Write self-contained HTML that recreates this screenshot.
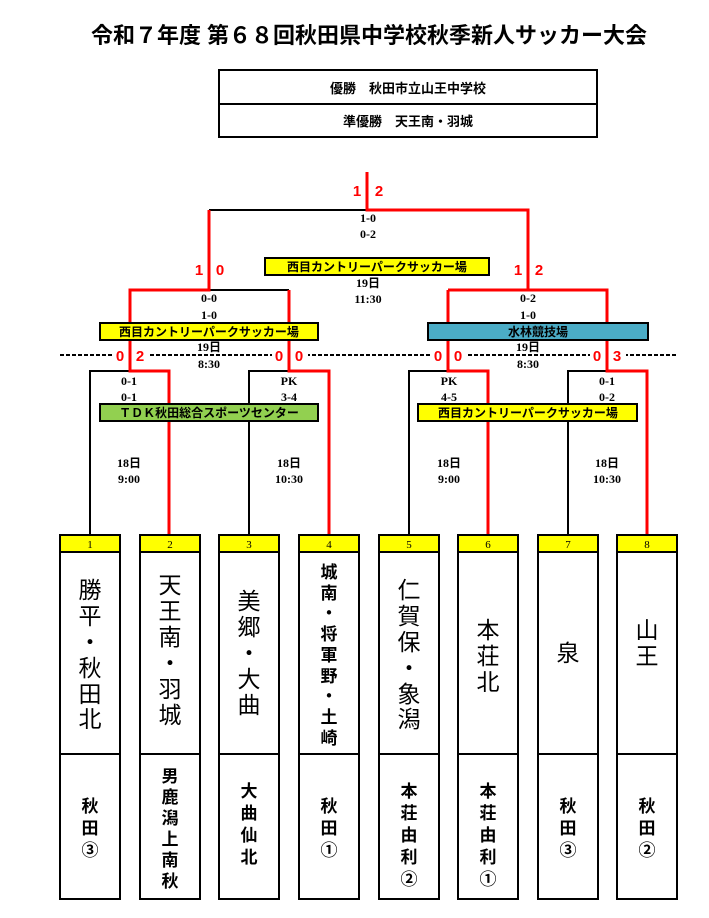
<!DOCTYPE html>
<html><head><meta charset="utf-8"><style>
body{margin:0;background:#fff}
svg text{font-family:"Liberation Sans","Noto Sans CJK JP",sans-serif;font-weight:bold}
svg text.n{font-weight:normal}
svg text.s{font-family:"Liberation Serif","Noto Sans CJK JP",serif}
</style></head><body>
<svg width="709" height="913" xmlns="http://www.w3.org/2000/svg">
<text x="369" y="43" font-size="22" text-anchor="middle">令和７年度 第６８回秋田県中学校秋季新人サッカー大会</text>
<rect x="219" y="70" width="378" height="67" fill="none" stroke="#000" stroke-width="2"/>
<line x1="219" y1="104" x2="597" y2="104" stroke="#000" stroke-width="2"/>
<text x="408" y="93" font-size="13" text-anchor="middle">優勝　秋田市立山王中学校</text>
<text x="408" y="126" font-size="13" text-anchor="middle">準優勝　天王南・羽城</text>

<g stroke="#000" stroke-width="2" fill="none">
<line x1="60" y1="355" x2="677" y2="355" stroke-dasharray="4,2"/>
<path d="M209 210H367"/>
<path d="M209 290H289"/>
<path d="M90 535V371H129"/>
<path d="M249 535V371H289"/>
<path d="M409 535V371H449"/>
<path d="M568 535V371H607"/>
</g>
<g fill="#fff">
<rect x="112" y="347" width="36" height="14"/><rect x="272" y="347" width="36" height="14"/>
<rect x="431" y="347" width="36" height="14"/><rect x="590" y="347" width="36" height="14"/>
</g>
<g stroke="#f00" stroke-width="3" fill="none">
<path d="M367 172V210H528V290"/>
<path d="M209 210V290H130V371H169V535"/>
<path d="M289 290V371H329V535"/>
<path d="M448 290H607V371H647V535"/>
<path d="M448 290V371H488V535"/>
</g>
<g font-size="15" text-anchor="middle">
<text x="357" y="196" style="fill:#f00">1</text><text x="379" y="196" style="fill:#f00">2</text>
<text x="199" y="275" style="fill:#f00">1</text><text x="220" y="275" style="fill:#f00">0</text>
<text x="518" y="275" style="fill:#f00">1</text><text x="539" y="275" style="fill:#f00">2</text>
<text x="120" y="361" style="fill:#f00">0</text><text x="140" y="361" style="fill:#f00">2</text>
<text x="279" y="361" style="fill:#f00">0</text><text x="299" y="361" style="fill:#f00">0</text>
<text x="438" y="361" style="fill:#f00">0</text><text x="458" y="361" style="fill:#f00">0</text>
<text x="597" y="361" style="fill:#f00">0</text><text x="617" y="361" style="fill:#f00">3</text>
</g>
<g stroke="#000" stroke-width="2">
<rect x="265" y="258" width="224" height="17" fill="#ff0"/>
<rect x="100" y="323" width="218" height="17" fill="#ff0"/>
<rect x="428" y="323" width="220" height="17" fill="#4bacc6"/>
<rect x="100" y="404" width="218" height="17" fill="#92d050"/>
<rect x="418" y="404" width="219" height="17" fill="#ff0"/>
</g>
<g font-size="12" text-anchor="middle">
<text x="377" y="271">西目カントリーパークサッカー場</text>
<text x="209" y="336">西目カントリーパークサッカー場</text>
<text x="538" y="336">水林競技場</text>
<text x="209" y="417">ＴＤＫ秋田総合スポーツセンター</text>
<text x="528" y="417">西目カントリーパークサッカー場</text>
</g>
<g font-size="12" text-anchor="middle">
<text class="s" x="368" y="222">1-0</text><text class="s" x="368" y="238">0-2</text>
<text class="s" x="368" y="287">19日</text><text class="s" x="368" y="303">11:30</text>
<text class="s" x="209" y="302">0-0</text><text class="s" x="209" y="319">1-0</text>
<text class="s" x="209" y="351">19日</text><text class="s" x="209" y="368">8:30</text>
<text class="s" x="528" y="302">0-2</text><text class="s" x="528" y="319">1-0</text>
<text class="s" x="528" y="351">19日</text><text class="s" x="528" y="368">8:30</text>
<text class="s" x="129" y="385">0-1</text><text class="s" x="129" y="401">0-1</text>
<text class="s" x="289" y="385">PK</text><text class="s" x="289" y="401">3-4</text>
<text class="s" x="449" y="385">PK</text><text class="s" x="449" y="401">4-5</text>
<text class="s" x="607" y="385">0-1</text><text class="s" x="607" y="401">0-2</text>
<text class="s" x="129" y="467">18日</text><text class="s" x="129" y="483">9:00</text>
<text class="s" x="289" y="467">18日</text><text class="s" x="289" y="483">10:30</text>
<text class="s" x="449" y="467">18日</text><text class="s" x="449" y="483">9:00</text>
<text class="s" x="607" y="467">18日</text><text class="s" x="607" y="483">10:30</text>
</g>
<g stroke="#000" stroke-width="2">
<rect x="60" y="535" width="60" height="364" fill="#fff"/><rect x="60" y="535" width="60" height="17" fill="#ff0"/><line x1="60" y1="754" x2="120" y2="754"/>
<rect x="140" y="535" width="60" height="364" fill="#fff"/><rect x="140" y="535" width="60" height="17" fill="#ff0"/><line x1="140" y1="754" x2="200" y2="754"/>
<rect x="219" y="535" width="60" height="364" fill="#fff"/><rect x="219" y="535" width="60" height="17" fill="#ff0"/><line x1="219" y1="754" x2="279" y2="754"/>
<rect x="299" y="535" width="60" height="364" fill="#fff"/><rect x="299" y="535" width="60" height="17" fill="#ff0"/><line x1="299" y1="754" x2="359" y2="754"/>
<rect x="379" y="535" width="60" height="364" fill="#fff"/><rect x="379" y="535" width="60" height="17" fill="#ff0"/><line x1="379" y1="754" x2="439" y2="754"/>
<rect x="458" y="535" width="60" height="364" fill="#fff"/><rect x="458" y="535" width="60" height="17" fill="#ff0"/><line x1="458" y1="754" x2="518" y2="754"/>
<rect x="538" y="535" width="60" height="364" fill="#fff"/><rect x="538" y="535" width="60" height="17" fill="#ff0"/><line x1="538" y1="754" x2="598" y2="754"/>
<rect x="617" y="535" width="60" height="364" fill="#fff"/><rect x="617" y="535" width="60" height="17" fill="#ff0"/><line x1="617" y1="754" x2="677" y2="754"/>
</g>
<g font-size="11" text-anchor="middle">
<text class="n s" x="90" y="548">1</text><text class="n s" x="170" y="548">2</text>
<text class="n s" x="249" y="548">3</text><text class="n s" x="329" y="548">4</text>
<text class="n s" x="409" y="548">5</text><text class="n s" x="488" y="548">6</text>
<text class="n s" x="568" y="548">7</text><text class="n s" x="647" y="548">8</text>
</g>
<g text-anchor="middle" font-size="23">
<text class="n"><tspan x="90" y="598">勝</tspan><tspan x="90" y="624">平</tspan><tspan x="90" y="650">・</tspan><tspan x="90" y="676">秋</tspan><tspan x="90" y="702">田</tspan><tspan x="90" y="727">北</tspan></text>
<text class="n"><tspan x="170" y="593">天</tspan><tspan x="170" y="619">王</tspan><tspan x="170" y="645">南</tspan><tspan x="170" y="671">・</tspan><tspan x="170" y="697">羽</tspan><tspan x="170" y="723">城</tspan></text>
<text class="n"><tspan x="249" y="609">美</tspan><tspan x="249" y="635">郷</tspan><tspan x="249" y="661">・</tspan><tspan x="249" y="687">大</tspan><tspan x="249" y="713">曲</tspan></text>
<text class="n"><tspan x="409" y="598">仁</tspan><tspan x="409" y="624">賀</tspan><tspan x="409" y="650">保</tspan><tspan x="409" y="676">・</tspan><tspan x="409" y="702">象</tspan><tspan x="409" y="727">潟</tspan></text>
<text class="n"><tspan x="488" y="638">本</tspan><tspan x="488" y="664">荘</tspan><tspan x="488" y="690">北</tspan></text>
<text class="n"><tspan x="568" y="661">泉</tspan></text>
<text class="n"><tspan x="647" y="638">山</tspan><tspan x="647" y="664">王</tspan></text>
</g>
<g text-anchor="middle" font-size="17">
<text><tspan x="329" y="578">城</tspan><tspan x="329" y="599">南</tspan><tspan x="329" y="619">・</tspan><tspan x="329" y="640">将</tspan><tspan x="329" y="661">軍</tspan><tspan x="329" y="682">野</tspan><tspan x="329" y="702">・</tspan><tspan x="329" y="723">土</tspan><tspan x="329" y="744">崎</tspan></text>
<text><tspan x="90" y="812">秋</tspan><tspan x="90" y="834">田</tspan><tspan x="90" y="856">③</tspan></text>
<text><tspan x="170" y="782">男</tspan><tspan x="170" y="803">鹿</tspan><tspan x="170" y="824">潟</tspan><tspan x="170" y="845">上</tspan><tspan x="170" y="866">南</tspan><tspan x="170" y="887">秋</tspan></text>
<text><tspan x="249" y="797">大</tspan><tspan x="249" y="819">曲</tspan><tspan x="249" y="841">仙</tspan><tspan x="249" y="863">北</tspan></text>
<text><tspan x="329" y="812">秋</tspan><tspan x="329" y="834">田</tspan><tspan x="329" y="856">①</tspan></text>
<text><tspan x="409" y="797">本</tspan><tspan x="409" y="819">荘</tspan><tspan x="409" y="841">由</tspan><tspan x="409" y="863">利</tspan><tspan x="409" y="885">②</tspan></text>
<text><tspan x="488" y="797">本</tspan><tspan x="488" y="819">荘</tspan><tspan x="488" y="841">由</tspan><tspan x="488" y="863">利</tspan><tspan x="488" y="885">①</tspan></text>
<text><tspan x="568" y="812">秋</tspan><tspan x="568" y="834">田</tspan><tspan x="568" y="856">③</tspan></text>
<text><tspan x="647" y="812">秋</tspan><tspan x="647" y="834">田</tspan><tspan x="647" y="856">②</tspan></text>
</g>
</svg>
</body></html>
